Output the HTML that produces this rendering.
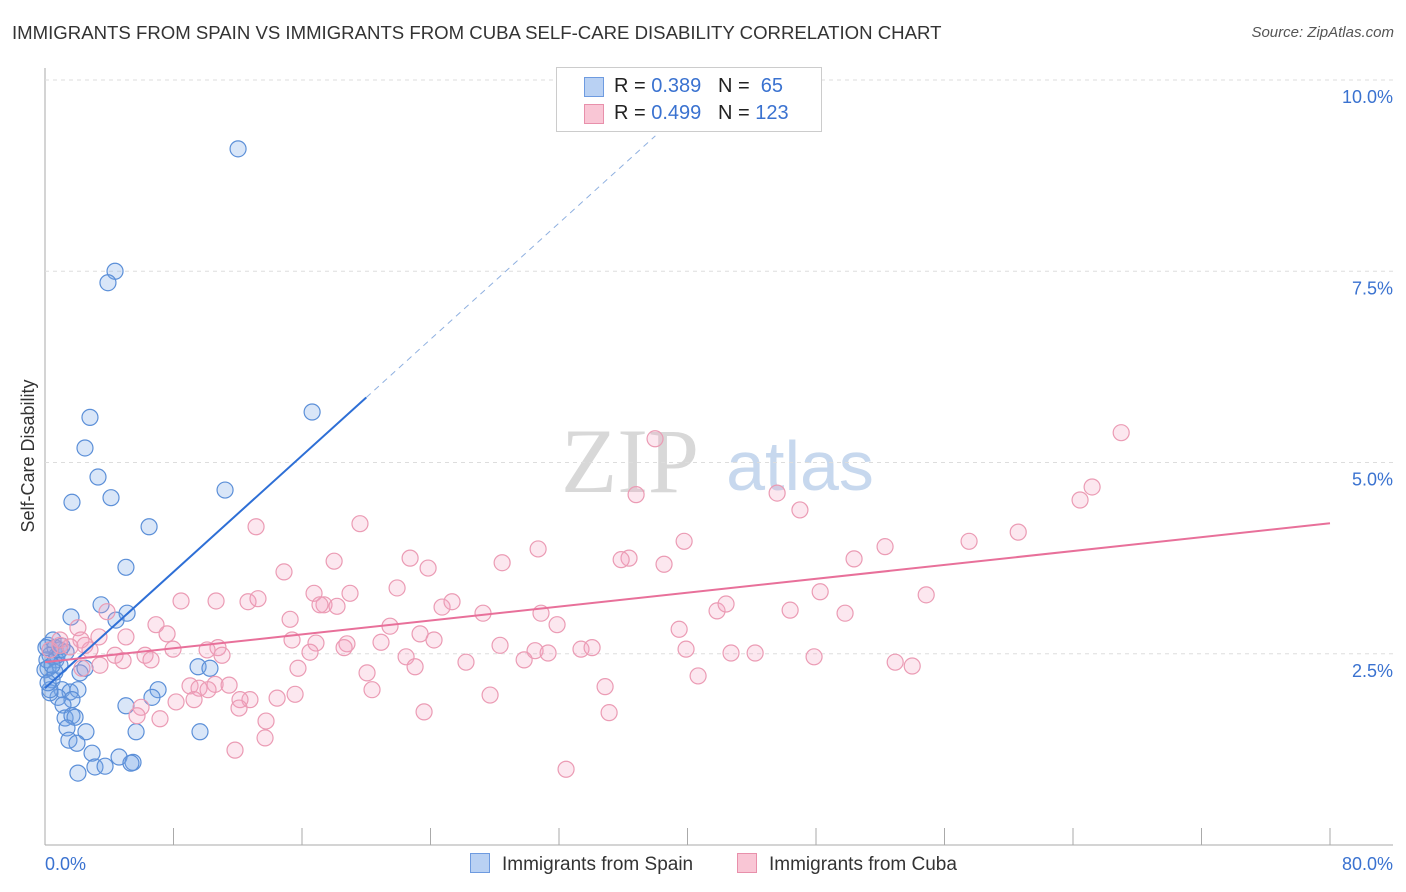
<!DOCTYPE html>
<html><head><meta charset="utf-8">
<style>
body{margin:0;background:#fff;font-family:"Liberation Sans",sans-serif;}
#wrap{position:relative;width:1406px;height:892px;overflow:hidden;}
.t{position:absolute;white-space:nowrap;}
</style></head>
<body>
<div id="wrap">
<div class="t" style="left:12px;top:22px;font-size:18.6px;color:#333;">IMMIGRANTS FROM SPAIN VS IMMIGRANTS FROM CUBA SELF-CARE DISABILITY CORRELATION CHART</div>
<div class="t" style="right:12px;top:24px;font-size:15px;color:#555;font-style:italic;">Source: ZipAtlas.com</div>
<svg id="svg" width="1406" height="892" style="position:absolute;left:0;top:0">
<text x="630" y="492" font-size="92" fill="#d8d8d8" font-family="Liberation Serif" text-anchor="middle">ZIP</text>
<text x="800" y="490" font-size="70" fill="#c7d8ee" text-anchor="middle">atlas</text>
<text transform="translate(34,456) rotate(-90)" font-size="18" fill="#333" text-anchor="middle">Self-Care Disability</text>
<g id="grid"></g><g id="marks"></g><g id="lines"></g>
</svg>
<div style="position:absolute;left:556px;top:67px;width:264px;height:63px;border:1px solid #ccc;background:#fff;">
<div style="position:absolute;left:27px;top:9px;width:18px;height:18px;background:#b9d1f3;border:1px solid #6e9be0;"></div>
<div class="t" style="left:57px;top:7px;font-size:20px;color:#222;">R = <span style="color:#3a72d0">0.389</span>&nbsp;&nbsp;&nbsp;N = &nbsp;<span style="color:#3a72d0">65</span></div>
<div style="position:absolute;left:27px;top:36px;width:18px;height:18px;background:#f9c6d5;border:1px solid #e890ab;"></div>
<div class="t" style="left:57px;top:34px;font-size:20px;color:#222;">R = <span style="color:#3a72d0">0.499</span>&nbsp;&nbsp;&nbsp;N = <span style="color:#3a72d0">123</span></div>
</div>
<div style="position:absolute;top:853px;left:470px;font-size:19px;color:#333;">
<span style="position:absolute;left:0;white-space:nowrap;"><span style="display:inline-block;width:18px;height:18px;background:#b9d1f3;border:1px solid #6e9be0;vertical-align:-3px;margin-right:12px;"></span>Immigrants from Spain</span>
<span style="position:absolute;left:267px;white-space:nowrap;"><span style="display:inline-block;width:18px;height:18px;background:#f9c6d5;border:1px solid #e890ab;vertical-align:-3px;margin-right:12px;"></span>Immigrants from Cuba</span>
</div>
</div>
<script>
const yTicks=[2.5,5.0,7.5,10.0];
const yTickLabels=["2.5%","5.0%","7.5%","10.0%"];
const xTickLabels=["0.0%","80.0%"];
const spainX=[12.02,4.36,3.92,2.80,16.63,2.49,3.30,11.21,1.68,4.11,6.48,5.04,1.62,3.49,5.11,4.42,0.19,0.62,0.31,0.68,0.93,0.19,0.44,2.18,2.49,1.06,1.56,2.05,0.81,0.31,7.04,6.66,9.53,10.27,5.04,1.68,1.12,1.25,1.68,1.87,1.37,2.55,5.67,9.65,1.49,1.99,2.93,4.61,5.48,5.35,3.11,3.74,2.05,0.12,0.50,0,0.75,0.31,0.93,1.31,0.62,0.06,1.06,0.44,0.19];
const spainY=[9.10,7.50,7.35,5.59,5.66,5.19,4.81,4.64,4.48,4.54,4.16,3.63,2.98,3.14,3.03,2.94,2.61,2.58,2.48,2.42,2.35,2.31,2.16,2.25,2.31,2.03,2.00,2.03,1.93,1.99,2.03,1.93,2.33,2.31,1.82,1.90,1.83,1.66,1.69,1.67,1.53,1.48,1.48,1.48,1.37,1.33,1.20,1.15,1.08,1.07,1.02,1.03,0.94,2.42,2.68,2.29,2.48,2.03,2.55,2.52,2.26,2.58,2.60,2.35,2.12];
const cubaX=[37.98,67.0,36.8,45.58,65.19,64.44,47.0,19.61,13.14,39.79,30.70,57.53,60.59,52.30,22.73,36.36,35.87,50.37,38.54,28.46,18.0,23.85,14.88,21.92,16.75,18.99,24.72,25.34,8.47,10.65,12.64,13.26,17.37,18.18,17.12,27.27,30.88,41.84,42.40,46.39,48.26,49.81,54.86,31.88,39.48,21.48,15.26,23.35,6.91,2.05,3.86,5.04,7.60,15.38,16.87,18.80,20.92,24.22,28.33,30.51,31.32,33.37,34.06,39.91,42.71,44.21,47.88,10.77,10.09,3.36,2.24,0.93,0.31,2.80,4.36,6.23,6.60,7.97,11.02,16.50,18.62,4.86,3.42,22.48,26.21,29.83,52.93,53.99,15.75,20.05,23.04,9.03,9.59,10.59,12.76,9.28,10.15,11.46,12.14,8.16,14.45,15.57,20.36,27.71,34.87,40.66,5.98,12.08,5.73,7.16,23.60,35.12,13.76,13.70,11.83,32.44,0.93,1.56,2.30,2.49];
const cubaY=[5.31,5.39,4.58,4.60,4.68,4.51,4.38,4.20,4.16,3.97,3.87,3.97,4.09,3.90,3.75,3.75,3.73,3.74,3.67,3.69,3.71,3.62,3.57,3.36,3.29,3.29,3.11,3.18,3.19,3.19,3.18,3.22,3.14,3.12,3.14,3.03,3.03,3.06,3.15,3.07,3.31,3.03,3.27,2.88,2.82,2.86,2.95,2.76,2.88,2.84,3.05,2.72,2.76,2.68,2.64,2.63,2.65,2.68,2.61,2.54,2.51,2.56,2.58,2.56,2.51,2.51,2.46,2.58,2.55,2.72,2.68,2.61,2.55,2.55,2.48,2.48,2.42,2.56,2.48,2.52,2.58,2.41,2.35,2.46,2.39,2.42,2.39,2.34,2.31,2.25,2.33,2.08,2.05,2.10,1.90,1.90,2.03,2.09,1.90,1.87,1.92,1.97,2.03,1.96,2.07,2.21,1.80,1.79,1.69,1.65,1.74,1.73,1.62,1.40,1.24,0.99,2.68,2.59,2.31,2.61];
const spainFit=[2.05,0.19];
const cubaFit=[2.39,0.0227];
const NS="http://www.w3.org/2000/svg";
const X0=45,X1=1330,Y0=845,YS=76.5;
function sx(v){return X0+(v/80)*(X1-X0);}
function sy(v){return Y0-v*YS;}
function mk(tag,attrs,parent){const e=document.createElementNS(NS,tag);for(const k in attrs)e.setAttribute(k,attrs[k]);parent.appendChild(e);return e;}
const grid=document.getElementById('grid'),marks=document.getElementById('marks'),lines=document.getElementById('lines');
let a=mk('line',{x1:X0,y1:68,x2:X0,y2:Y0,stroke:'#aaa'},grid);


a=mk('line',{x1:X0,y1:Y0,x2:1393,y2:Y0,stroke:'#aaa'},grid);


yTicks.forEach((v,i)=>{
  const g=mk('line',{x1:X0,y1:sy(v),x2:1393,y2:sy(v),stroke:'#ddd','stroke-dasharray':'4,4'},grid);
  
  
  const t=mk('text',{x:1393,y:sy(v)+23,'font-size':18,fill:'#3a72d0','text-anchor':'end'},grid);
  t.textContent=yTickLabels[i];
  
  
});
for(let v=0;v<=80;v+=8){
  const tk=mk('line',{x1:sx(v),y1:Y0-17,x2:sx(v),y2:Y0,stroke:'#aaa'},grid);
  
  
}
[[0,'start',45],[80,'end',1393]].forEach((d,i)=>{
  const t=mk('text',{x:d[2],y:870,'font-size':18,fill:'#3a72d0','text-anchor':d[1]},grid);
  t.textContent=xTickLabels[i];
  
  
});
spainX.forEach((x,i)=>{
  const c=mk('circle',{cx:sx(x),cy:sy(spainY[i]),r:8,fill:'rgba(120,165,230,0.28)',stroke:'#5b8fd8','stroke-width':1.2},marks);
  
  
});
cubaX.forEach((x,i)=>{
  const c=mk('circle',{cx:sx(x),cy:sy(cubaY[i]),r:8,fill:'rgba(245,160,190,0.25)',stroke:'#eb9bb4','stroke-width':1.2},marks);
  
  
});
let l=mk('line',{x1:sx(0),y1:sy(spainFit[0]),x2:sx(20),y2:sy(spainFit[0]+20*spainFit[1]),stroke:'#2e6fd6','stroke-width':2},lines);


l=mk('line',{x1:sx(20),y1:sy(spainFit[0]+20*spainFit[1]),x2:sx(38),y2:sy(spainFit[0]+38*spainFit[1]),stroke:'#8fb0e0','stroke-width':1,'stroke-dasharray':'6,5'},lines);


l=mk('line',{x1:sx(0),y1:sy(cubaFit[0]),x2:sx(80),y2:sy(cubaFit[0]+80*cubaFit[1]),stroke:'#e8709a','stroke-width':2},lines);


</script>
</body></html>
